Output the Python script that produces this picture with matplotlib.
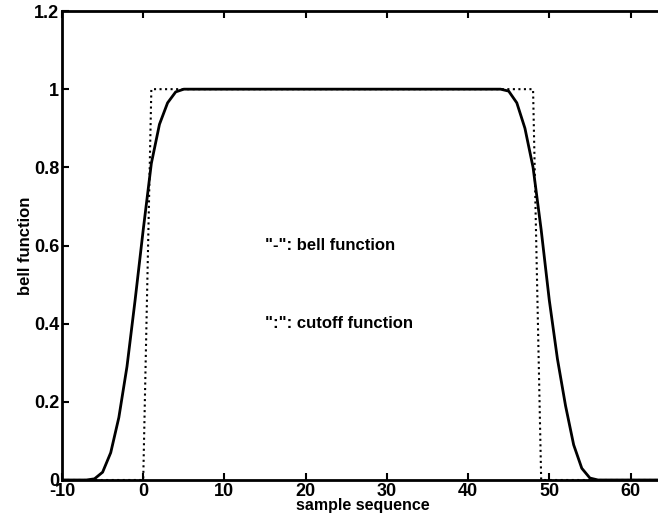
import numpy as np
import matplotlib
matplotlib.use("Agg")
import matplotlib.pyplot as plt
from matplotlib.ticker import FuncFormatter

plt.rcParams['font.family'] = ['Liberation Sans', 'DejaVu Sans']
plt.rcParams['axes.unicode_minus'] = False

# sample index
n = list(range(-10, 65))

# bell function: rising edge, flat top, falling edge
rise = [0.0, 0.0, 0.0, 0.0, 0.003, 0.02, 0.07, 0.16, 0.29, 0.46,
        0.64, 0.81, 0.91, 0.965, 0.993]          # n = -10 .. 4
flat = [1.0] * 40                                 # n = 5 .. 44
fall = [0.995, 0.965, 0.90, 0.80, 0.64, 0.46, 0.31, 0.19, 0.09,
        0.03, 0.005, 0.0]                         # n = 45 .. 56
tail = [0.0] * 8                                  # n = 57 .. 64
bell = rise + flat + fall + tail

# cutoff function: 1 for samples 1..48, else 0
cutoff = [0.0] * 11 + [1.0] * 48 + [0.0] * 16     # n = -10 .. 64

fig = plt.figure(figsize=(6.58, 5.30), dpi=100)
ax = fig.add_axes([62 / 658, 50 / 530, 601 / 658, 469 / 530])

ax.plot(n, bell, '-', color='black', linewidth=2.0)
ax.plot(n, cutoff, ':', color='black', linewidth=1.5)

ax.set_xlim(-10, 64)
ax.set_ylim(0, 1.2)
ax.set_xticks(range(-10, 61, 10))
ax.set_yticks([0, 0.2, 0.4, 0.6, 0.8, 1.0, 1.2])
ax.yaxis.set_major_formatter(FuncFormatter(lambda v, p: '%g' % round(v, 2)))

# right edge of the box is cut off in the original scan
ax.tick_params(direction='in', length=5, width=1.5, top=True, right=False,
               labelsize=13, pad=2)
for lab in ax.get_xticklabels() + ax.get_yticklabels():
    lab.set_fontweight('bold')
for s in ax.spines.values():
    s.set_linewidth(2.0)

ax.text(15, 0.6, '"-": bell function', fontsize=12, fontweight='bold',
        ha='left', va='center')
ax.text(15, 0.4, '":": cutoff function', fontsize=12, fontweight='bold',
        ha='left', va='center')

ax.set_xlabel('sample sequence', fontsize=11.5, fontweight='bold', labelpad=-1)
ax.set_ylabel('bell function', fontsize=12, fontweight='bold', labelpad=1)

fig.savefig('out.png', dpi=100)
